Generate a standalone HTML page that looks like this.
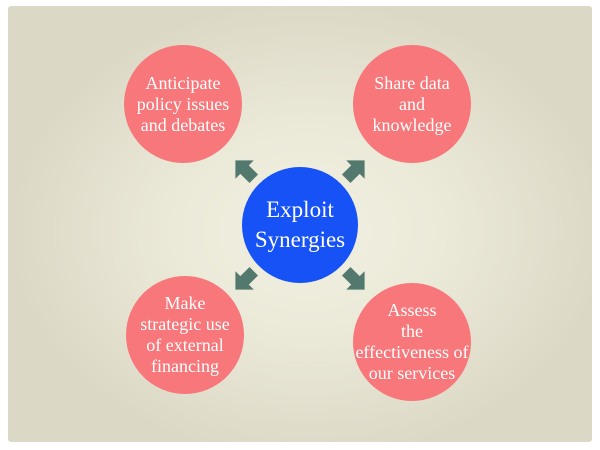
<!DOCTYPE html>
<html><head><style>
body{margin:0;width:600px;height:450px;background:#fff;overflow:hidden;position:relative;font-family:"Liberation Serif",serif}
.card{position:absolute;left:8px;top:6px;width:584px;height:436px;background:radial-gradient(ellipse 300px 230px at 300px 225px,#f2f1e2 0%,#ebe9d8 45%,#dcd8c6 100%);border-radius:3px}
.c{position:absolute;border-radius:50%;display:flex;align-items:center;justify-content:center;text-align:center;color:#fff;font-size:18px;line-height:21px}
.p{background:#f7777a;width:118px;height:118px}
.b{background:#1652f5;width:116px;height:116px;font-size:23px;line-height:30px}
</style></head><body>
<div class="card"></div>
<svg width="600" height="450" style="position:absolute;left:0;top:0">
<g fill="#53796f">
<polygon points="-2,-6 11,-6 11,6 -2,6 -2,13 -15,0 -2,-13" transform="translate(246,171) rotate(45)"/>
<polygon points="-2,-6 11,-6 11,6 -2,6 -2,13 -15,0 -2,-13" transform="translate(354,171) rotate(135)"/>
<polygon points="-2,-6 11,-6 11,6 -2,6 -2,13 -15,0 -2,-13" transform="translate(246,279) rotate(-45)"/>
<polygon points="-2,-6 11,-6 11,6 -2,6 -2,13 -15,0 -2,-13" transform="translate(354,279) rotate(-135)"/>
</g>
</svg>
<div class="c p" style="left:124px;top:45px">Anticipate<br>policy issues<br>and debates</div>
<div class="c p" style="left:353px;top:45px">Share data<br>and<br>knowledge</div>
<div class="c b" style="left:242px;top:167px">Exploit<br>Synergies</div>
<div class="c p" style="left:126px;top:276px">Make<br>strategic use<br>of external<br>financing</div>
<div class="c p" style="left:353px;top:283px">Assess<br>the<br>effectiveness of<br>our services</div>
</body></html>
